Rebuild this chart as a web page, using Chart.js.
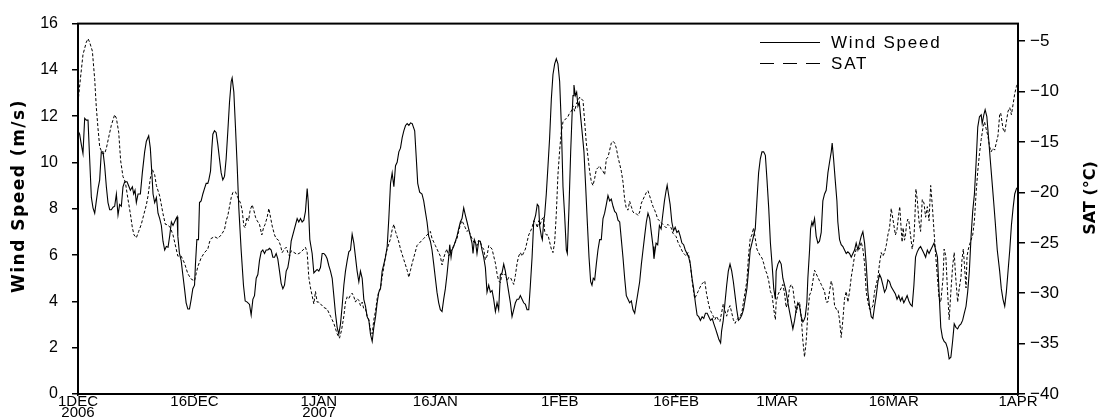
<!DOCTYPE html>
<html>
<head>
<meta charset="utf-8">
<title>Wind speed and SAT, Dec 2006 - Apr 2007</title>
<script src="https://cdn.jsdelivr.net/npm/chart.js@4.4.0/dist/chart.umd.min.js"></script>
<style>
  html, body { margin: 0; padding: 0; background: #fff; }
  #wrap { width: 1109px; height: 418px; }
</style>
</head>
<body>
<div id="wrap"><canvas id="windSat" width="1109" height="418"></canvas></div>
<script>
// time axis: days since 1 Dec 2006 00Z
const tickDays = [0, 15, 31, 46, 62, 77, 90, 105, 121];
const tickLabels = [['1DEC', '2006'], '16DEC', ['1JAN', '2007'], '16JAN', '1FEB', '16FEB', '1MAR', '16MAR', '1APR'];
const windTicks = [0, 2, 4, 6, 8, 10, 12, 14, 16];
const satTicks = [-40, -35, -30, -25, -20, -15, -10, -5];

// wind speed (m/s)
const windDays = [
  0.00, 0.21, 0.43, 0.64, 0.86, 1.07, 1.29, 1.50, 1.72, 1.93, 2.15, 2.36, 2.58, 2.79, 3.00, 3.22, 3.43, 3.65, 3.86, 4.08,
  4.29, 4.51, 4.72, 4.94, 5.15, 5.36, 5.58, 5.79, 6.01, 6.31, 6.57, 6.74, 7.00, 7.17, 7.34, 7.51, 7.73, 8.03, 8.28, 8.58,
  8.80, 9.10, 9.31, 9.53, 9.66, 9.87, 10.09, 10.30, 10.52, 10.73, 10.94, 11.16, 11.37, 11.59, 11.80, 12.02, 12.23,
  12.63, 12.76, 12.85, 13.06, 13.28, 13.49, 13.71, 13.92, 14.14, 14.35, 14.57, 14.78, 15.00, 15.12, 15.30, 15.51, 15.64, 15.85, 16.07, 16.28,
  16.50, 16.71, 16.84, 17.06, 17.23, 17.36, 17.57, 17.78, 18.00, 18.21, 18.43, 18.64, 18.86, 19.07, 19.29, 19.50, 19.72, 19.84, 20.06, 20.27,
  20.49, 20.70, 21.00, 21.30, 21.52, 21.78, 22.08, 22.29, 22.51, 22.72, 22.94, 23.15, 23.36, 23.58, 23.79, 24.01, 24.22, 24.44, 24.65, 24.87,
  25.08, 25.30, 25.51, 25.72, 25.94, 26.15, 26.37, 26.58, 26.80, 27.01, 27.23, 27.44,
  28.21, 28.42, 28.64, 28.85, 29.07, 29.28, 29.50, 29.63, 29.84, 30.14, 30.36, 30.57, 30.78, 31.00, 31.21, 31.43, 31.64, 31.86, 32.07, 32.29,
  32.50, 32.72, 32.93, 33.14, 33.36, 33.57, 33.79, 34.00, 34.22, 34.43, 34.65, 34.86, 35.08, 35.29, 35.51, 35.72, 35.93, 36.15, 36.36, 36.58,
  36.79, 37.01, 37.22, 37.44, 37.65, 37.87, 38.08, 38.30, 38.51, 38.72, 38.94, 39.15, 39.37, 39.58, 39.80, 40.01, 40.23, 40.44, 40.66, 40.87,
  41.08, 41.30, 41.51, 41.73, 41.94, 42.16, 42.37, 42.59, 42.80, 43.02,
  43.34, 43.55, 43.73, 43.98, 44.28, 44.50, 44.71, 44.93, 45.14, 45.36, 45.57, 45.79, 46.00, 46.21, 46.43, 46.64, 46.86, 47.07, 47.29, 47.50,
  47.72, 47.85, 48.02, 48.15, 48.36, 48.58, 48.79, 49.00, 49.22, 49.43, 49.65, 49.86, 50.08, 50.29, 50.51, 50.72, 50.85, 51.02, 51.19, 51.36,
  51.58, 51.79, 52.01, 52.22, 52.44, 52.65, 52.87, 53.08, 53.30, 53.51, 53.73, 53.94, 54.15, 54.37, 54.58, 54.80, 55.01, 55.23, 55.44, 55.66,
  55.87, 56.09, 56.30, 56.52, 56.73, 56.94, 57.16, 57.37, 57.59, 57.80, 58.02, 58.23, 58.45, 58.66,
  58.91, 59.12, 59.30, 59.42, 59.64, 59.77, 59.94, 60.07, 60.28, 60.50, 60.71, 60.93, 61.14, 61.36, 61.57, 61.78, 62.00, 62.21, 62.43, 62.64,
  62.86, 62.99, 63.20, 63.42, 63.59, 63.72, 63.84, 64.02, 64.19, 64.36, 64.53, 64.70, 64.92, 65.13, 65.35, 65.56, 65.78, 65.99, 66.16, 66.33,
  66.51, 66.72, 66.93, 67.15, 67.36, 67.58, 67.79, 68.01, 68.22, 68.44, 68.65, 68.87, 69.08, 69.30, 69.51, 69.73, 69.94, 70.15, 70.37, 70.58,
  70.80, 71.01, 71.23, 71.44, 71.66, 71.87, 72.09, 72.30, 72.52, 72.73, 72.94, 73.16, 73.37, 73.59, 73.80, 74.02, 74.14,
  74.41, 74.62, 74.84, 75.06, 75.27, 75.49, 75.71, 75.84, 76.01, 76.22, 76.44, 76.66, 76.87, 77.09, 77.31, 77.52, 77.74, 77.96, 78.17, 78.39,
  78.61, 78.82, 79.04, 79.25, 79.47, 79.69, 79.90, 80.12, 80.34, 80.55, 80.77, 80.99, 81.20, 81.42, 81.64, 81.85, 82.07, 82.29, 82.50, 82.72,
  82.85, 83.06, 83.28, 83.50, 83.71, 83.93, 84.15, 84.36, 84.58, 84.80, 85.01, 85.23, 85.45, 85.66, 85.88, 86.10, 86.31, 86.53, 86.75, 86.96,
  87.18, 87.39, 87.61, 87.83, 88.04, 88.26, 88.48, 88.69, 88.91, 89.13, 89.34, 89.56, 89.77,
  89.87, 90.09, 90.30, 90.52, 90.73, 90.95, 91.16, 91.38, 91.59, 91.81, 92.02, 92.24, 92.45, 92.66, 92.88, 93.09, 93.31, 93.44, 93.61, 93.82,
  93.95, 94.17, 94.30, 94.47, 94.60, 94.81, 95.02, 95.24, 95.45, 95.67, 95.88, 96.10, 96.31, 96.53, 96.74, 96.96, 97.08, 97.26, 97.47, 97.69,
  97.81, 98.03, 98.24, 98.46, 98.67, 98.89, 99.10, 99.32, 99.53, 99.75, 99.96, 100.17, 100.39, 100.60, 100.82, 101.03, 101.25, 101.46, 101.68, 101.89,
  102.11, 102.32, 102.54, 102.75, 102.97, 103.18, 103.39, 103.61, 103.82, 104.04, 104.25, 104.47, 104.68,
  105.22, 105.43, 105.65, 105.87, 106.08, 106.30, 106.52, 106.73, 106.95, 107.16, 107.38, 107.60, 107.81, 108.03, 108.25, 108.46, 108.68, 108.90, 109.11, 109.33,
  109.55, 109.76, 109.98, 110.19, 110.41, 110.63, 110.84, 111.06, 111.28, 111.49, 111.71, 111.93, 112.14, 112.36, 112.58, 112.79, 113.01, 113.23, 113.44, 113.66,
  113.87, 114.09, 114.31, 114.52, 114.74, 114.96, 115.17, 115.39, 115.61, 115.82, 116.04, 116.26, 116.39, 116.60, 116.77, 116.99, 117.21, 117.42, 117.64, 117.86,
  118.07, 118.33, 118.64, 118.85, 119.07, 119.29, 119.50, 119.72, 119.94, 120.15, 120.37, 120.58, 120.80, 121.00
];
const windSpeed = [
  11.37, 11.22, 10.77, 10.39, 11.91, 11.83, 11.83, 10.16, 8.49, 8.04, 7.81, 8.34, 8.87, 9.25, 10.46, 10.46, 9.86, 8.95, 8.27, 7.96,
  7.96, 8.07, 8.11, 8.64, 7.73, 8.19, 8.11, 8.95, 9.17, 9.17, 8.95, 8.80, 8.95, 8.64, 8.80, 8.27, 8.64, 8.64, 9.55, 10.46,
  10.92, 11.15, 10.62, 9.40, 8.64, 8.27, 8.49, 7.81, 7.58, 7.28, 6.60, 6.22, 6.37, 6.34, 6.82, 7.43, 7.28,
  7.58, 7.66, 6.82, 6.07, 5.76, 5.16, 4.55, 3.94, 3.67, 3.67, 4.09, 4.55, 4.70, 5.61, 6.67, 6.67, 8.27, 8.34, 8.64, 8.87,
  9.10, 9.10, 9.25, 9.63, 10.62, 11.22, 11.37, 11.30, 10.77, 10.16, 9.55, 9.25, 9.40, 10.16, 11.37, 12.59, 13.50, 13.65, 13.04, 11.53,
  9.86, 8.04, 6.22, 4.70, 4.02, 3.97, 3.87, 3.41, 4.09, 4.25, 5.00, 5.16, 5.76, 6.14, 6.22, 6.07, 6.22, 6.22, 6.29, 6.22,
  5.91, 5.91, 6.07, 5.84, 5.31, 4.78, 4.55, 4.70, 5.31, 5.46, 5.91, 6.60,
  7.58, 7.43, 7.58, 7.43, 7.51, 7.89, 8.87, 8.34, 6.67, 6.07, 5.23, 5.31, 5.38, 5.31, 5.46, 6.07, 6.07, 5.99, 5.84, 5.54,
  5.31, 5.00, 4.25, 3.49, 2.88, 2.58, 3.03, 3.79, 4.70, 5.31, 5.76, 6.14, 6.22, 6.90, 6.52, 5.91, 5.31, 4.85, 5.31, 5.00,
  4.09, 3.79, 3.34, 3.18, 2.58, 2.27, 2.88, 3.34, 3.94, 4.40, 4.55, 5.31, 5.61, 5.91, 6.37, 7.58, 9.10, 9.55, 8.95, 9.86,
  10.01, 10.46, 10.62, 11.07, 11.37, 11.60, 11.68, 11.60, 11.71, 11.68,
  11.37, 10.16, 9.10, 8.72, 8.64, 8.34, 7.89, 7.43, 6.82, 6.60, 6.22, 5.61, 5.00, 4.40, 3.94, 3.64, 3.56, 4.09, 4.55, 5.16,
  5.91, 6.45, 5.91, 6.22, 6.37, 6.60, 6.82, 7.13, 7.43, 7.58, 8.04, 7.73, 7.43, 7.13, 6.82, 6.52, 6.07, 6.67, 6.52, 6.07,
  6.60, 6.60, 6.22, 5.91, 5.46, 4.40, 4.70, 4.40, 4.47, 4.09, 3.56, 3.94, 3.64, 5.16, 5.23, 5.61, 5.31, 4.85, 4.40, 3.94,
  3.34, 3.64, 3.94, 4.09, 4.09, 4.25, 4.09, 3.94, 3.87, 3.64, 3.64, 4.70, 5.91, 7.43,
  7.73, 8.19, 8.11, 7.28, 6.82, 6.67, 7.43, 7.73, 8.64, 9.86, 11.07, 12.74, 13.80, 14.26, 14.48, 14.26, 13.50, 11.68, 8.95, 7.73,
  6.22, 6.07, 8.04, 10.46, 11.98, 12.89, 13.35, 12.89, 13.04, 12.44, 12.59, 11.98, 11.22, 10.46, 8.95, 7.43, 5.91, 4.85, 4.70, 5.00,
  4.93, 5.61, 6.22, 6.67, 6.67, 7.58, 7.81, 8.19, 8.57, 8.34, 8.42, 8.11, 7.89, 7.81, 7.51, 7.43, 6.67, 5.91, 5.00, 4.25,
  4.09, 3.94, 4.02, 3.64, 3.49, 3.94, 4.40, 4.85, 5.61, 6.22, 6.82, 7.43, 7.81, 7.58, 6.98, 6.37, 5.84,
  6.52, 6.45, 7.28, 7.13, 7.73, 8.34, 8.80, 9.02, 8.64, 8.19, 7.43, 7.05, 7.20, 6.98, 7.05, 6.82, 6.52, 6.45, 6.22, 6.07,
  5.91, 5.61, 5.00, 4.55, 3.94, 3.41, 3.34, 3.18, 3.34, 3.26, 3.49, 3.49, 3.34, 3.18, 3.26, 3.03, 2.81, 2.58, 2.35, 2.20,
  2.73, 3.18, 3.94, 4.70, 5.31, 5.61, 5.31, 4.85, 4.25, 3.64, 3.18, 3.26, 3.41, 3.64, 4.09, 4.55, 5.31, 6.22, 6.52, 6.82,
  7.13, 8.34, 9.55, 10.16, 10.46, 10.46, 10.31, 9.25, 8.04, 6.52, 5.61, 4.55, 4.09,
  5.31, 5.61, 5.76, 5.61, 5.00, 4.70, 4.40, 3.94, 3.56, 3.18, 2.81, 3.18, 3.64, 3.94, 3.79, 3.34, 3.11, 3.18, 3.34, 3.94,
  5.00, 6.22, 7.13, 7.43, 7.28, 7.58, 6.82, 6.52, 6.60, 6.98, 8.34, 8.64, 8.80, 9.55, 10.01, 10.46, 10.84, 10.16, 9.25, 8.34,
  7.43, 6.67, 6.45, 6.37, 6.22, 6.07, 6.14, 6.07, 5.91, 6.07, 6.22, 6.52, 6.22, 6.52, 6.82, 7.01, 6.52, 5.61, 4.40, 3.79,
  3.34, 3.26, 3.79, 4.25, 4.85, 5.16, 5.00, 4.70, 4.40, 4.55, 4.93, 4.85, 4.63,
  4.32, 4.09, 4.25, 4.02, 4.17, 3.94, 4.09, 4.25, 4.02, 3.87, 3.79, 4.70, 5.91, 6.14, 6.29, 6.37, 6.22, 6.07, 5.91, 6.22,
  6.07, 6.22, 6.37, 6.52, 6.22, 5.91, 4.40, 2.88, 2.43, 2.27, 2.20, 1.97, 1.52, 1.59, 2.27, 3.03, 2.88, 2.81, 2.96, 3.03,
  3.18, 3.49, 3.79, 4.40, 5.31, 6.82, 7.89, 8.64, 10.01, 11.53, 11.98, 12.06, 11.68, 12.06, 12.28, 11.98, 11.07, 10.16, 9.25, 8.34,
  7.43, 6.22, 5.31, 4.55, 4.09, 3.79, 4.40, 5.31, 6.22, 7.28, 8.04, 8.64, 8.87, 8.95
];

// surface air temperature (°C)
const satDays = [
  0.00, 0.30, 0.64, 1.07, 1.29, 1.50, 1.85, 2.15, 2.36, 2.58, 2.79, 3.13, 3.43, 3.65, 3.99, 4.29, 4.72, 4.94, 5.24, 5.49,
  5.79, 6.09, 6.44, 6.74, 7.00, 7.21, 7.51, 7.81, 8.15, 8.50, 8.80, 9.01, 9.31, 9.57, 9.87, 10.09, 10.52, 10.94, 11.24, 11.59,
  11.89, 12.23,
  12.85, 13.28, 13.71, 14.14, 14.57, 15.00, 15.21, 15.42, 15.85, 16.28, 16.71, 16.93, 17.14, 17.57, 18.00, 18.43, 18.86, 19.07, 19.29, 19.50,
  19.72, 19.93, 20.27, 20.49, 20.70, 20.92, 21.13, 21.35, 21.52, 21.73, 21.95, 22.16, 22.42, 22.63, 22.85, 23.06, 23.36, 23.66, 23.88, 24.09,
  24.35, 24.57, 24.78, 25.00, 25.30, 25.51, 25.81, 26.07, 26.28, 26.58, 26.80, 27.01, 27.23, 27.44,
  28.21, 28.64, 29.07, 29.28, 29.50, 29.71, 29.93, 30.36, 30.57, 30.78, 31.00, 31.21, 31.64, 32.07, 32.50, 32.93, 33.36, 33.66, 33.92, 34.22,
  34.43, 34.65, 34.86, 35.08, 35.29, 35.51, 35.72, 35.93, 36.15, 36.36, 36.58, 36.79, 37.01, 37.22, 37.44, 37.65, 37.87, 38.08, 38.30, 38.51,
  38.72, 38.94, 39.15, 39.37, 39.58, 39.80, 40.23, 40.44, 40.66, 40.87, 41.08, 41.30, 41.51, 41.94, 42.37, 42.59, 42.80, 43.02,
  43.64, 44.07, 44.50, 44.93, 45.36, 45.57, 45.79, 46.00, 46.21, 46.64, 46.86, 47.07, 47.29, 47.50, 47.72, 47.93, 48.15, 48.36, 48.79, 49.00,
  49.22, 49.43, 49.65, 49.86, 50.08, 50.29, 50.51, 50.72, 50.94, 51.36, 51.58, 51.79, 52.01, 52.22, 52.44, 52.65, 52.87, 53.08, 53.30, 53.51,
  53.73, 53.94, 54.15, 54.37, 54.58, 54.80, 55.01, 55.23, 55.44, 55.66, 55.87, 56.09, 56.30, 56.52, 56.73, 56.94, 57.16, 57.37, 57.59, 57.80,
  58.02, 58.23, 58.45, 58.66,
  58.99, 59.12, 59.30, 59.51, 59.72, 59.94, 60.07, 60.28, 60.50, 60.71, 60.93, 61.14, 61.36, 61.57, 61.78, 62.00, 62.21, 62.43, 62.64, 62.86,
  63.07, 63.29, 63.50, 63.72, 63.93, 64.15, 64.36, 64.58, 64.79, 65.01, 65.22, 65.43, 65.65, 65.86, 66.08, 66.29, 66.51, 66.72, 66.93, 67.15,
  67.36, 67.58, 67.79, 68.01, 68.22, 68.44, 68.65, 68.87, 69.08, 69.30, 69.51, 69.73, 69.94, 70.15, 70.37, 70.58, 70.80, 71.01, 71.23, 71.44,
  71.66, 71.87, 72.09, 72.30, 72.52, 72.73, 72.94, 73.16, 73.37, 73.59, 73.80, 74.02, 74.23,
  74.41, 74.62, 74.84, 75.06, 75.27, 75.49, 75.71, 75.92, 76.14, 76.35, 76.57, 76.79, 77.00, 77.22, 77.44, 77.65, 77.87, 78.09, 78.30, 78.52,
  78.74, 78.95, 79.17, 79.38, 79.60, 79.82, 80.03, 80.25, 80.47, 80.68, 80.90, 81.12, 81.33, 81.55, 81.77, 81.98, 82.20, 82.42, 82.63, 82.85,
  83.06, 83.28, 83.50, 83.71, 83.93, 84.15, 84.36, 84.58, 84.80, 85.01, 85.23, 85.45, 85.66, 85.88, 86.10, 86.31, 86.53, 86.75, 86.96, 87.18,
  87.39, 87.61, 87.83, 88.04, 88.26, 88.48, 88.69, 88.91, 89.13, 89.34, 89.56, 89.77,
  89.87, 90.09, 90.30, 90.52, 90.73, 90.95, 91.16, 91.38, 91.59, 91.81, 92.02, 92.24, 92.45, 92.66, 92.88, 93.09, 93.31, 93.52, 93.74, 93.95,
  94.17, 94.38, 94.60, 94.81, 95.02, 95.24, 95.45, 95.67, 95.88, 96.10, 96.31, 96.53, 96.74, 96.96, 97.17, 97.39, 97.60, 97.81, 98.03, 98.24,
  98.46, 98.67, 98.89, 99.10, 99.32, 99.53, 99.75, 99.96, 100.17, 100.39, 100.60, 100.82, 101.03, 101.25, 101.46, 101.68, 101.89, 102.11, 102.32, 102.54,
  102.75, 102.97, 103.18, 103.39, 103.61, 103.82, 104.04, 104.25, 104.47, 104.68,
  105.22, 105.43, 105.65, 105.78, 105.95, 106.08, 106.21, 106.39, 106.52, 106.65, 106.82, 106.95, 107.16, 107.38, 107.60, 107.73, 107.86, 108.03, 108.25, 108.46,
  108.68, 108.90, 109.11, 109.33, 109.55, 109.76, 109.98, 110.19, 110.41, 110.63, 110.84, 111.06, 111.19, 111.36, 111.49, 111.71, 111.93, 112.14, 112.36, 112.58,
  112.79, 112.92, 113.05, 113.23, 113.44, 113.66, 113.79, 113.96, 114.09, 114.31, 114.44, 114.61, 114.87, 115.17, 115.39, 115.61, 115.82, 116.04, 116.26, 116.47,
  116.69, 116.90, 117.12, 117.34, 117.55, 117.77, 117.99, 118.20, 118.42, 118.64, 118.77, 118.94, 119.07, 119.29, 119.50, 119.72, 119.94, 120.15, 120.37, 120.58,
  120.80, 121.00
];
const satTemp = [
  -11.06, -8.78, -6.33, -5.10, -4.75, -5.10, -5.98, -8.78, -11.59, -13.69, -15.45, -16.15, -16.15, -15.62, -14.39, -13.34, -12.29, -12.64, -14.04, -16.85,
  -18.43, -18.95, -20.71, -22.11, -23.51, -24.22, -24.50, -23.87, -23.16, -22.11, -21.23, -20.36, -18.60, -17.73, -18.25, -19.31, -20.36, -22.11, -23.16, -23.23,
  -23.51, -24.22,
  -26.32, -26.32, -27.02, -28.07, -28.60, -28.78, -28.07, -27.37, -26.50, -25.97, -25.62, -24.92, -24.57, -24.39, -24.57, -24.22, -23.69, -22.81, -22.29, -21.41,
  -20.53, -20.01, -19.94, -20.36, -20.71, -21.06, -21.76, -23.34, -23.51, -22.46, -22.81, -21.76, -21.23, -21.76, -22.46, -22.81, -23.16, -24.22, -23.51, -23.16,
  -22.46, -21.59, -22.46, -23.34, -24.22, -24.57, -24.74, -25.27, -25.97, -25.62, -25.44, -25.97, -26.32, -25.79,
  -26.15, -25.97, -25.62, -25.44, -25.97, -28.43, -29.48, -31.06, -29.83, -30.88, -30.88, -31.06, -31.41, -31.58, -32.28, -32.99, -34.04, -34.46, -33.69, -32.28,
  -30.88, -30.36, -30.53, -30.18, -30.00, -30.36, -30.88, -30.53, -30.71, -31.23, -30.88, -31.58, -31.58, -32.28, -32.63, -33.69, -34.04, -32.63, -31.76, -30.53,
  -29.83, -29.48, -28.43, -27.37, -26.32, -25.62, -24.57, -23.69, -23.16, -23.87, -24.39, -24.92, -25.62, -26.67, -27.72, -28.43, -27.72, -27.02,
  -25.27, -24.92, -24.57, -24.22, -23.87, -24.57, -24.92, -25.27, -25.62, -26.32, -27.20, -26.50, -25.97, -25.62, -26.32, -25.97, -25.62, -25.27, -24.57, -23.87,
  -23.16, -22.81, -23.16, -23.51, -23.87, -23.69, -24.22, -24.57, -24.92, -25.27, -24.74, -24.92, -25.44, -25.62, -26.67, -26.32, -25.27, -25.44, -25.62, -26.32,
  -27.02, -28.07, -28.78, -28.95, -28.07, -28.25, -28.07, -28.78, -28.43, -28.43, -28.78, -29.13, -28.25, -27.02, -26.32, -25.97, -26.32, -25.97, -25.62, -24.92,
  -24.22, -23.87, -23.51, -22.81,
  -23.16, -23.51, -22.81, -23.16, -22.64, -22.46, -23.87, -24.22, -24.22, -24.92, -25.62, -25.97, -24.92, -22.11, -18.25, -15.80, -14.04, -12.99, -12.82, -12.64,
  -12.47, -12.11, -11.94, -11.41, -11.94, -11.24, -10.89, -10.54, -10.71, -10.89, -12.99, -15.10, -16.50, -17.90, -18.95, -19.31, -18.60, -17.73, -17.55, -17.38,
  -17.73, -17.90, -18.25, -16.68, -16.50, -15.80, -15.10, -14.92, -15.10, -15.62, -16.50, -17.20, -17.90, -18.95, -20.71, -21.59, -21.76, -20.88, -21.41, -21.94,
  -22.11, -22.11, -22.29, -21.94, -21.06, -20.71, -20.36, -20.01, -19.83, -20.36, -20.88, -21.41, -21.76,
  -22.11, -22.64, -22.81, -22.99, -23.16, -23.34, -23.51, -23.16, -23.34, -23.51, -24.04, -24.22, -24.39, -24.92, -25.27, -25.62, -25.97, -26.15, -26.32, -25.97,
  -26.67, -28.07, -29.48, -30.53, -30.18, -29.83, -29.48, -29.13, -28.95, -28.78, -30.00, -30.88, -31.58, -31.93, -32.28, -32.63, -32.28, -32.63, -32.81, -31.93,
  -31.06, -31.76, -32.28, -31.58, -31.23, -31.93, -32.63, -32.99, -32.63, -32.46, -32.28, -31.93, -30.88, -29.83, -28.78, -26.32, -24.57, -24.22, -23.51, -24.57,
  -25.62, -25.97, -26.32, -26.50, -27.02, -27.72, -28.07, -28.78, -29.83, -30.18, -31.58, -32.63,
  -30.88, -30.18, -29.83, -29.48, -29.13, -30.00, -31.41, -30.88, -29.48, -29.13, -29.48, -30.88, -31.93, -31.23, -30.88, -32.28, -34.74, -36.32, -34.74, -31.93,
  -30.18, -29.83, -28.78, -27.72, -28.07, -28.43, -28.78, -29.13, -29.48, -29.83, -30.88, -30.88, -29.83, -28.78, -29.48, -31.23, -31.58, -31.58, -32.63, -34.39,
  -32.63, -30.53, -29.83, -30.88, -29.83, -28.43, -27.37, -26.32, -25.62, -25.62, -25.62, -24.92, -25.62, -27.02, -29.83, -30.88, -31.58, -31.58, -31.23, -29.83,
  -29.13, -28.43, -27.02, -25.97, -26.32, -25.97, -25.27, -24.22, -23.51, -21.59,
  -24.22, -23.69, -22.11, -21.41, -23.51, -24.92, -23.51, -24.74, -24.22, -23.16, -22.64, -22.81, -24.22, -25.62, -24.57, -22.46, -19.66, -20.71, -22.81, -23.87,
  -20.71, -21.06, -22.46, -21.41, -22.81, -19.31, -21.41, -23.87, -26.32, -28.43, -30.53, -30.88, -29.83, -28.43, -25.62, -26.32, -29.83, -32.63, -29.83, -27.37,
  -25.97, -27.72, -29.13, -30.88, -29.48, -28.43, -26.67, -25.62, -27.02, -29.48, -26.32, -25.62, -24.92, -24.22, -22.81, -20.01, -17.90, -16.15, -14.75, -13.69,
  -12.99, -13.69, -14.39, -15.45, -15.97, -15.62, -15.80, -15.10, -14.39, -12.29, -12.11, -12.99, -13.69, -14.04, -12.99, -11.94, -11.59, -12.29, -11.24, -10.19,
  -9.48, -9.13
];

(function(){

    const textFont = '"Liberation Sans", Arial, sans-serif';
    const titleFont = '"DejaVu Sans", sans-serif';

    const toPoints = (xs, ys) => xs.map((x, i) => ({ x: x, y: ys[i] }));

    if (windDays.length !== windSpeed.length || satDays.length !== satTemp.length)
        console.warn('series length mismatch', windDays.length, windSpeed.length, satDays.length, satTemp.length);

    const fixedTicks = values => scale => {
        scale.ticks = values.map(v => ({ value: v }));
    };

    const minus = v => v < 0 ? '\u2212' + Math.abs(v) : String(v);

    // box round the plot, rotated axis titles and the legend inside the top right corner
    const frame = {
        id: 'frame',
        afterDraw(chart) {
            const { ctx, chartArea: a } = chart;
            ctx.save();
            ctx.strokeStyle = '#000';
            ctx.lineWidth = 2;
            ctx.setLineDash([]);
            ctx.strokeRect(a.left, a.top, a.right - a.left, a.bottom - a.top);

            ctx.fillStyle = '#000';
            ctx.textAlign = 'center';
            ctx.textBaseline = 'middle';
            const rotated = (text, x, y) => {
                ctx.save();
                ctx.translate(x, y);
                ctx.rotate(-Math.PI / 2);
                ctx.fillText(text, 0, 0);
                ctx.restore();
            };
            ctx.font = 'bold 17px ' + titleFont;
            ctx.letterSpacing = '1.5px';
            rotated('Wind Speed (m/s)', 20, 196);
            ctx.font = 'bold 16px ' + titleFont;
            ctx.letterSpacing = '0px';
            rotated('SAT (\u00b0C)', 1091, 198);

            ctx.font = '17px ' + textFont;
            ctx.letterSpacing = '1.8px';
            ctx.textAlign = 'left';
            ctx.lineWidth = 1;
            chart.data.datasets.forEach((ds, i) => {
                const y = 42 + i * 21;
                ctx.setLineDash(ds.borderDash && ds.borderDash.length ? [14, 9] : []);
                ctx.beginPath();
                ctx.moveTo(760, y + 0.5);
                ctx.lineTo(820, y + 0.5);
                ctx.stroke();
                ctx.fillText(ds.label, 831, y + 1);
            });
            ctx.restore();
        }
    };

    new Chart(document.getElementById('windSat'), {
        type: 'line',
        data: {
            datasets: [
                {
                    label: 'Wind Speed',
                    data: toPoints(windDays, windSpeed),
                    yAxisID: 'y',
                    borderColor: '#000',
                    borderWidth: 1.1,
                    pointRadius: 0,
                    tension: 0
                },
                {
                    label: 'SAT',
                    data: toPoints(satDays, satTemp),
                    yAxisID: 'y1',
                    borderColor: '#000',
                    borderWidth: 1,
                    borderDash: [3, 2],
                    pointRadius: 0,
                    tension: 0
                }
            ]
        },
        options: {
            responsive: false,
            animation: false,
            devicePixelRatio: 1,
            layout: { padding: { top: 17, left: 0, right: 0, bottom: 0 } },
            plugins: { legend: { display: false }, tooltip: { enabled: false } },
            scales: {
                x: {
                    type: 'linear',
                    min: 0,
                    max: 121,
                    border: { display: false },
                    grid: { display: true, drawOnChartArea: false, tickLength: 2, color: '#000', lineWidth: 1.5 },
                    afterBuildTicks: fixedTicks(tickDays),
                    afterFit: scale => { scale.height = 24; },
                    ticks: {
                        autoSkip: false,
                        maxRotation: 0,
                        padding: 0,
                        color: '#000',
                        font: { family: textFont, size: 15, lineHeight: 0.76 },
                        callback: (value, index) => tickLabels[index]
                    }
                },
                y: {
                    position: 'left',
                    min: 0,
                    max: 16,
                    border: { display: false },
                    grid: { display: true, drawOnChartArea: false, tickLength: 6, color: '#000', lineWidth: 1.5 },
                    afterBuildTicks: fixedTicks(windTicks),
                    afterFit: scale => { scale.width = 78; },
                    ticks: { padding: 14, color: '#000', font: { family: textFont, size: 16 } }
                },
                y1: {
                    position: 'right',
                    min: -40,
                    max: -3.25,
                    border: { display: false },
                    grid: { display: true, drawOnChartArea: false, tickLength: 7, color: '#000', lineWidth: 1.5 },
                    afterBuildTicks: fixedTicks(satTicks),
                    afterFit: scale => { scale.width = 91; },
                    ticks: { padding: 5, color: '#000', font: { family: textFont, size: 17 }, callback: minus }
                }
            }
        },
        plugins: [frame]
    });
})();
</script>
</body>
</html>
